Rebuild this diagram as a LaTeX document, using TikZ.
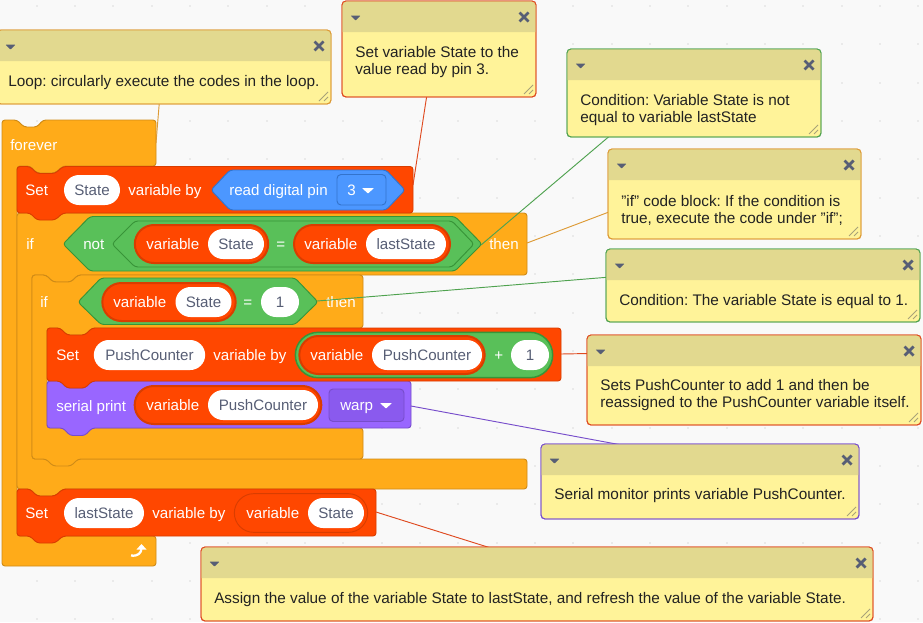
\documentclass[tikz,border=0pt]{standalone}
\usepackage{fontspec}
\setmainfont{Liberation Sans}
\frenchspacing
\usetikzlibrary{shapes.misc,calc}
\pgfdeclarelayer{conn}
\pgfdeclarelayer{notes}
\pgfsetlayers{main,conn,notes}
\definecolor{pagebg}{HTML}{F9F9F9}
\definecolor{griddot}{HTML}{EAEAEA}
\definecolor{ctrl}{HTML}{FFAB19}
\definecolor{ctrlD}{HTML}{CF8B17}
\definecolor{ctrlL}{HTML}{DD9A35}
\definecolor{varR}{HTML}{FF4700}
\definecolor{varD}{HTML}{D93D00}
\definecolor{varL}{HTML}{DF4A20}
\definecolor{opG}{HTML}{59C059}
\definecolor{opD}{HTML}{389438}
\definecolor{opL}{HTML}{4FA24F}
\definecolor{pinB}{HTML}{4C97FF}
\definecolor{pinD}{HTML}{3373CC}
\definecolor{serP}{HTML}{9966FF}
\definecolor{serD}{HTML}{774DCB}
\definecolor{serM}{HTML}{8A5AEE}
\definecolor{greyT}{HTML}{575E75}
\definecolor{noteH}{HTML}{E2D98F}
\definecolor{noteB}{HTML}{FFF399}
\definecolor{noteT}{HTML}{222222}
\definecolor{gripC}{HTML}{A8A279}
\tikzset{
  x=0.75pt,y=-0.75pt,
  blockshape/.style={rounded corners=2.25pt,line width=0.7pt},
  ctrlblock/.style={blockshape,fill=ctrl,draw=ctrlD},
  varblock/.style={blockshape,fill=varR,draw=varD},
  serblock/.style={blockshape,fill=serP,draw=serD},
  hexG/.style={blockshape,fill=opG,draw=opD},
  hexB/.style={blockshape,fill=pinB,draw=pinD},
  lbl/.style={inner sep=0pt,anchor=west,text=white,font=\fontsize{11.35}{13}\selectfont,text height=7.6pt,text depth=0pt},
  whitepill/.style={rounded rectangle,fill=white,inner sep=0pt,minimum height=22.5pt,text=greyT,font=\fontsize{11.35}{13}\selectfont,text height=7.6pt,text depth=0pt},
  redpill/.style={rounded rectangle,fill=varR,draw=varD,line width=1.5pt,inner sep=0pt,minimum height=28.5pt},
  conn/.style={line width=0.7pt},
  notebody/.style={rectangle,rounded corners=3pt,fill=noteB,line width=0.7pt,inner sep=0pt},
  notetext/.style={inner sep=0pt,anchor=west,align=left,text=noteT,font=\fontsize{11.5}{12.75}\selectfont},
  hdrpt/.style={inner sep=0pt,minimum size=0pt},
}
% \notebox{name}{x1}{y1}{x2}{y2}{colour}
\newcommand{\notebox}[6]{%
  \pgfmathsetmacro{\ncx}{(#2+#4)/2}\pgfmathsetmacro{\ncy}{(#3+#5)/2}%
  \pgfmathsetmacro{\nw}{(#4-#2)*0.75}\pgfmathsetmacro{\nh}{(#5-#3)*0.75}%
  \pgfmathsetmacro{\nyh}{#3+31}\pgfmathsetmacro{\nym}{#3+15.5}%
  \node[notebody,draw=#6,minimum width=\nw pt,minimum height=\nh pt] (#1) at (\ncx,\ncy) {};
  \fill[noteH] (#2,\nyh) [rounded corners=3pt] -- (#2,#3) -- (#4,#3) [sharp corners] -- (#4,\nyh) -- cycle;
  \draw[#6,line width=0.7pt,rounded corners=3pt] (#2,#3) rectangle (#4,#5);
  \node[hdrpt] (h#1) at (\ncx,\nym) {};
  \fill[greyT,rounded corners=0.5pt] ($(#2,#3)+(8.5,14.5)$) -- ++(10,0) -- ++(-5,5) -- cycle;
  \draw[greyT,line width=2.1pt] ($(#4,#3)+(-16.5,11.5)$) -- ++(9,9) ($(#4,#3)+(-7.5,11.5)$) -- ++(-9,9);
  \draw[gripC,line width=0.7pt] ($(#4,#5)+(-12,-3)$) -- ++(9,-9) ($(#4,#5)+(-7,-3)$) -- ++(4,-4);
}
\begin{document}
\begin{tikzpicture}
\useasboundingbox (0,0) rectangle (923,622);
\fill[pagebg] (0,0) rectangle (923,622);
\foreach \i in {0,...,24}{\foreach \j in {0,...,16}{
  \fill[griddot] ({-1.6+38.33*\i-1},{6+38.33*\j-1}) rectangle ++(2,2);
}}
% ---------- forever
\draw[ctrlblock] (2,120) -- (17,120) -- (24,127) -- (37,127) -- (43,120) -- (156,120) -- (156,166) -- (63,166) -- (55,173) -- (37,173) -- (30,166) -- (17,166) -- (17,536) -- (156,536) -- (156,566) -- (2,566) -- cycle;
\node[lbl] (tforever) at (10,145) {forever};
% ---------- outer if
\draw[ctrlblock] (17,213) -- (527,213) -- (527,275) -- (78,275) -- (71,282) -- (53,282) -- (46,275) -- (32,275) -- (32,459) -- (527,459) -- (527,489) -- (63,489) -- (55,496) -- (37,496) -- (30,489) -- (17,489) -- cycle;
% ---------- set state
\draw[varblock] (17,166.5) -- (30,166.5) -- (37,173.5) -- (55,173.5) -- (63,166.5) -- (413,166.5) -- (413,213) -- (63,213) -- (55,220) -- (37,220) -- (30,213) -- (17,213) -- cycle;
\node[lbl] (tset1) at (25,190) {Set};
\node[whitepill,minimum width=42pt] (pstate1) at (92,190) {State};
\node[lbl] (tvarby1) at (128,190) {variable by};
\draw[hexB] (211,190) -- (230,170) -- (386,170) -- (405,190) -- (386,210) -- (230,210) -- cycle;
\node[lbl] (tpin) at (229,190) {read digital pin};
\draw[fill=pinB,draw=pinD,line width=0.7pt,rounded corners=3pt] (337,174.5) rectangle (386,205);
\node[lbl] (t3) at (347,190) {3};
\fill[white,rounded corners=0.4pt] (362,188) -- (374,188) -- (368,193.5) -- cycle;
% ---------- not hex
\node[lbl] (tif1) at (26,244) {if};
\draw[hexG] (63,244) -- (90,216.5) -- (455,216.5) -- (482,244) -- (455,271) -- (90,271) -- cycle;
\node[lbl] (tnot) at (83,244) {not};
\draw[hexG] (112,244) -- (135,221) -- (452,221) -- (474,244) -- (452,267) -- (135,267) -- cycle;
\node[redpill,minimum width=100pt] (pv1) at (201.5,244) {};
\node[lbl] (tv1) at (146,244) {variable};
\node[whitepill,minimum width=42pt] (pstate2) at (236,244) {State};
\node[lbl] (teq1) at (276,244) {=};
\node[redpill,minimum width=117pt] (pv2) at (372,244) {};
\node[lbl] (tv2) at (304,244) {variable};
\node[whitepill,minimum width=60pt] (plast) at (406,244) {lastState};
\node[lbl] (tthen1) at (489,244) {then};
% ---------- inner if
\draw[ctrlblock] (32,275) -- (46,275) -- (53,282) -- (71,282) -- (78,275) -- (363,275) -- (363,328) -- (92,328) -- (85,335) -- (67,335) -- (60,328) -- (47,328) -- (47,428) -- (363,428) -- (363,459) -- (78,459) -- (71,466) -- (53,466) -- (46,459) -- (32,459) -- cycle;
\node[lbl] (tif2) at (40,302) {if};
\draw[hexG] (78,302) -- (101,278) -- (295,278) -- (318,302) -- (295,324.5) -- (101,324.5) -- cycle;
\node[redpill,minimum width=100pt] (pv3) at (169,302) {};
\node[lbl] (tv3) at (113,302) {variable};
\node[whitepill,minimum width=42pt] (pstate3) at (203.5,302) {State};
\node[lbl] (teq2) at (243,302) {=};
\node[whitepill,minimum width=28.5pt] (pone1) at (280,302) {1};
\node[lbl] (tthen2) at (326,302) {then};
% ---------- serial print
\draw[serblock] (47,381) -- (60,381) -- (67,388) -- (85,388) -- (92,381) -- (411,381) -- (411,428) -- (92,428) -- (85,435.5) -- (70,435.5) -- (63,428) -- (47,428) -- cycle;
\node[lbl] (tser) at (56,406) {serial print};
\node[redpill,minimum width=140pt] (pv5) at (228,405) {};
\node[lbl] (tv5) at (146,405) {variable};
\node[whitepill,minimum width=82.5pt] (ppc2) at (263,405) {PushCounter};
\draw[fill=serM,draw=serD,line width=0.7pt,rounded corners=3pt] (329,389) rectangle (404,421.5);
\node[lbl] (twarp) at (340,405) {warp};
\fill[white,rounded corners=0.4pt] (380,403) -- (392,403) -- (386,408.5) -- cycle;
% ---------- set pushcounter
\draw[varblock] (47,328) -- (60,328) -- (67,335) -- (85,335) -- (92,328) -- (561,328) -- (561,381) -- (92,381) -- (85,388) -- (67,388) -- (60,381) -- (47,381) -- cycle;
\node[lbl] (tset2) at (56,355) {Set};
\node[whitepill,minimum width=83.5pt] (ppc1) at (149.5,355) {PushCounter};
\node[lbl] (tvarby2) at (213,355) {variable by};
\node[rounded rectangle,fill=opG,draw=opD,line width=1.1pt,inner sep=0pt,minimum width=193pt,minimum height=34pt] (pg1) at (424,355) {};
\node[redpill,minimum width=139pt] (pv4) at (392,355) {};
\node[lbl] (tv4) at (310,355) {variable};
\node[whitepill,minimum width=82.5pt] (ppc3) at (427,355) {PushCounter};
\node[lbl] (tplus) at (494,355) {+};
\node[whitepill,minimum width=28.5pt] (pone2) at (530,355) {1};
% ---------- set laststate
\draw[varblock] (17,489) -- (30,489) -- (37,496) -- (55,496) -- (63,489) -- (376,489) -- (376,536) -- (63,536) -- (55,543) -- (37,543) -- (30,536) -- (17,536) -- cycle;
\node[lbl] (tset3) at (25,513) {Set};
\node[whitepill,minimum width=60pt] (plast2) at (104,513) {lastState};
\node[lbl] (tvarby3) at (152,513) {variable by};
\node[rounded rectangle,fill=varR,draw=varD,line width=0.7pt,inner sep=0pt,minimum width=100pt,minimum height=29pt] (pv6) at (301,513) {};
\node[lbl] (tv6) at (246,513) {variable};
\node[whitepill,minimum width=42pt] (pstate4) at (336,513) {State};
% loop arrow
\draw[white,line width=1.7pt] (131,555.5) .. controls (138,556.5) and (141.5,553) .. (141.5,548);
\fill[white] (136.5,549.5) -- (141.5,544) -- (146.5,549.5) -- cycle;
% anchors of the connectors on the blocks
\coordinate (aforever) at (156,143);
\coordinate (aset1) at (413,185);
\coordinate (anot) at (481,245);
\coordinate (aif1) at (527,243);
\coordinate (aeq) at (317,301);
\coordinate (aset2) at (561,354);
\coordinate (aser) at (411,406);
\coordinate (aset3) at (376,512);
% ---------- notes
\begin{pgfonlayer}{notes}
\notebox{n1}{-3}{30}{331}{104}{ctrlL}
\node[notetext] (x1) at (8,82.5) {Loop: circularly execute the codes in the loop.};
\notebox{n2}{342}{1}{536}{97}{varL}
\node[notetext] (x2) at (355,62) {Set variable State to the\\value read by pin 3.};
\notebox{n3}{567}{49}{821}{137}{opL}
\node[notetext] (x3) at (580,110) {Condition: Variable State is not\\equal to variable lastState};
\notebox{n4}{608}{149}{861}{239}{ctrlL}
\node[notetext] (x4) at (621,210) {"if" code block: If the condition is\\true, execute the code under "if";};
\notebox{n5}{606}{249}{920}{322}{opL}
\node[notetext] (x5) at (619,301.5) {Condition: The variable State is equal to 1.};
\notebox{n6}{587}{335}{921}{425}{varL}
\node[notetext] (x6) at (600,395.5) {Sets PushCounter to add 1 and then be\\reassigned to the PushCounter variable itself.};
\notebox{n7}{541}{444}{859}{519}{serD}
\node[notetext] (x7) at (554,495.5) {Serial monitor prints variable PushCounter.};
\notebox{n8}{201}{547}{873}{621}{varL}
\node[notetext] (x8) at (214,599.5) {Assign the value of the variable State to lastState, and refresh the value of the variable State.};
\end{pgfonlayer}
% ---------- connectors
\begin{pgfonlayer}{conn}
\draw[conn,ctrlL] (aforever) -- (hn1);
\draw[conn,varL] (aset1) -- (hn2);
\draw[conn,opL] (anot) -- (hn3);
\draw[conn,ctrlL] (aif1) -- (hn4);
\draw[conn,opL] (aeq) -- (hn5);
\draw[conn,varL] (aset2) -- (hn6);
\draw[conn,serD] (aser) -- (hn7);
\draw[conn,varL] (aset3) -- (hn8);
\end{pgfonlayer}
\end{tikzpicture}
\end{document}
